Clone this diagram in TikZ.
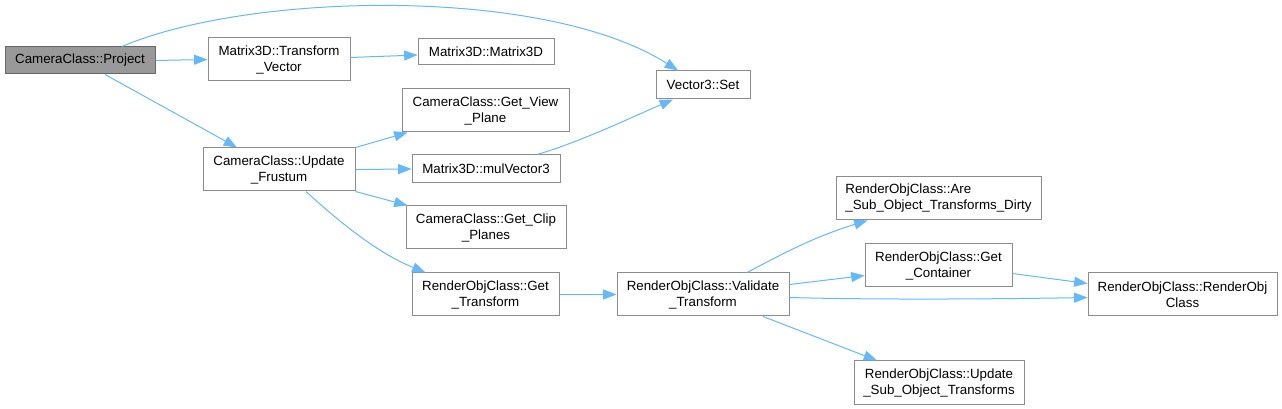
\documentclass[tikz,border=0pt]{standalone}
\usepackage{fontspec}
\setmainfont{Liberation Sans}
\usetikzlibrary{calc,arrows.meta}
\definecolor{callblue}{HTML}{63B8FF}
\definecolor{boxgray}{HTML}{8C8C8C}
\definecolor{curfill}{HTML}{999999}
\definecolor{curline}{HTML}{666666}

\begin{document}
\begin{tikzpicture}
    [ x=.75pt, y=-.75pt,
      font={\fontsize{10}{12}\selectfont},
      func/.style={draw=boxgray, fill=white, line width=.75pt,
                   inner sep=0, align=center, minimum height=32.25pt},
      single/.style={minimum height=#1},
      current/.style={func, draw=curline, fill=curfill},
      call/.style={callblue, line width=.75pt,
                   -{Triangle[length=10pt,width=7.5pt]}}
    ]
    \useasboundingbox (0,0) rectangle (1282,409);

    % Functions
    \node[current, minimum width=112.5pt, single=20.25pt] (project)
        at (80,60.5) {CameraClass::Project};
    \node[func, minimum width=106.5pt] (xformvec)
        at (279,59.5) {Matrix3D::Transform\\\_Vector};
    \node[func, minimum width=102pt, single=19.5pt] (matctor)
        at (486,52) {Matrix3D::Matrix3D};
    \node[func, minimum width=70.5pt, single=21pt] (vecset)
        at (703,85) {Vector3::Set};
    \node[func, minimum width=114pt] (update)
        at (279,169.5) {CameraClass::Update\\\_Frustum};
    \node[func, minimum width=125.25pt] (viewplane)
        at (485.5,110.5) {CameraClass::Get\_View\\\_Plane};
    \node[func, minimum width=111pt, single=21pt] (mulvec)
        at (486,169) {Matrix3D::mulVector3};
    \node[func, minimum width=120pt] (clipplanes)
        at (486,227.5) {CameraClass::Get\_Clip\\\_Planes};
    \node[func, minimum width=110.25pt] (gettransform)
        at (485.5,294.5) {RenderObjClass::Get\\\_Transform};
    \node[func, minimum width=129pt] (validate)
        at (703,294.5) {RenderObjClass::Validate\\\_Transform};
    \node[func, align=left, minimum width=153.75pt] (dirty)
        at (938.5,198.5) {RenderObjClass::Are\\\_Sub\_Object\_Transforms\_Dirty};
    \node[func, minimum width=110.25pt] (container)
        at (938.5,265.5) {RenderObjClass::Get\\\_Container};
    \node[func, minimum width=141.75pt] (renderobj)
        at (1182.5,294.5) {RenderObjClass::RenderObj\\Class};
    \node[func, minimum width=127.5pt, single=33pt] (updatesub)
        at (939,383) {RenderObjClass::Update\\\_Sub\_Object\_Transforms};

    % Calls
    \draw[call] ($(project.north)+(42,0)$) .. controls (250,-8) and (545,-14) ..
        ($(vecset.north)+(-25,0)$);
    \draw[call] (project.east) -- (xformvec.west);
    \draw[call] ($(project.south)+(25,0)$) -- ($(update.north)+(-42,0)$);
    \draw[call] ($(xformvec.east)+(0,-2)$) -- ($(matctor.west)+(0,3)$);
    \draw[call] (update.north east) -- ($(viewplane.south west)+(6,0)$);
    \draw[call] (update.east) -- (mulvec.west);
    \draw[call] (update.south east) -- ($(clipplanes.north west)+(2,0)$);
    \draw[call] ($(update.south)+(27,0)$) .. controls (335,218) and (375,252) ..
        ($(gettransform.north)+(-60,0)$);
    \draw[call] ($(mulvec.north)+(51,0)$) .. controls (580,142) and (630,118) ..
        ($(vecset.south)+(-30,0)$);
    \draw[call] (gettransform.east) -- (validate.west);
    \draw[call] ($(validate.north)+(44,0)$) .. controls (775,258) and (810,238) ..
        ($(dirty.south)+(-71,0)$);
    \draw[call] ($(validate.east)+(0,-10)$) -- ($(container.west)+(0,10)$);
    \draw[call] ($(validate.east)+(0,3)$) .. controls (880,300) and (1000,299) ..
        ($(renderobj.west)+(0,3)$);
    \draw[call] ($(validate.south)+(60,0)$) -- ($(updatesub.north)+(-62,0)$);
    \draw[call] ($(container.east)+(0,8)$) -- ($(renderobj.west)+(0,-11)$);

\end{tikzpicture}
\end{document}
